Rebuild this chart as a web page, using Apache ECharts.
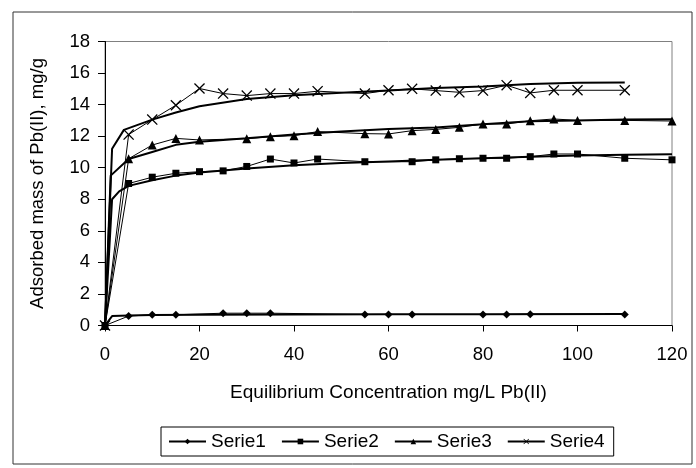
<!DOCTYPE html>
<html>
<head>
<meta charset="utf-8">
<script src="https://cdn.jsdelivr.net/npm/echarts@6/dist/echarts.min.js"></script>
<style>
html,body{margin:0;padding:0;background:#fff;}
#chart{width:696px;height:468px;}
</style>
</head>
<body>
<div id="chart"></div>
<script>
// ---- data ----
const serie1X = [0, 5, 10, 15, 25, 30, 35, 55, 60, 65, 80, 85, 90, 110];
const serie1Y = [0, 0.6, 0.68, 0.68, 0.78, 0.78, 0.78, 0.7, 0.7, 0.7, 0.7, 0.7, 0.72, 0.7];

const serie2X = [0, 5, 10, 15, 20, 25, 30, 35, 40, 45, 55, 65, 70, 75, 80, 85, 90, 95, 100, 110, 120];
const serie2Y = [0, 9.0, 9.4, 9.65, 9.75, 9.8, 10.08, 10.55, 10.3, 10.55, 10.38, 10.38, 10.5, 10.57, 10.6, 10.6, 10.7, 10.87, 10.87, 10.6, 10.5];

const serie3X = [0, 5, 10, 15, 20, 30, 35, 40, 45, 55, 60, 65, 70, 75, 80, 85, 90, 95, 100, 110, 120];
const serie3Y = [0, 10.57, 11.44, 11.86, 11.76, 11.84, 11.97, 12.03, 12.29, 12.16, 12.14, 12.35, 12.43, 12.56, 12.77, 12.77, 12.98, 13.09, 13.0, 13.0, 12.96];

const serie4X = [0, 5, 10, 15, 20, 25, 30, 35, 40, 45, 55, 60, 65, 70, 75, 80, 85, 90, 95, 100, 110];
const serie4Y = [0, 12.1, 13.05, 13.96, 15.02, 14.7, 14.57, 14.7, 14.7, 14.85, 14.7, 14.91, 15.0, 14.89, 14.78, 14.89, 15.23, 14.74, 14.91, 14.91, 14.91];

// fitted curves
const fit1X = [0, 1.5, 5, 10, 20, 40, 60, 80, 110];
const fit1Y = [0, 0.6, 0.64, 0.66, 0.68, 0.7, 0.71, 0.72, 0.73];

const fit2X = [0, 1.5, 3, 5, 10, 15, 20, 30, 40, 50, 60, 70, 80, 90, 100, 110, 120];
const fit2Y = [0, 8.0, 8.5, 8.85, 9.2, 9.5, 9.7, 9.95, 10.15, 10.3, 10.4, 10.5, 10.6, 10.7, 10.78, 10.82, 10.85];

const fit3X = [0, 1.2, 5, 10, 15, 20, 30, 40, 50, 60, 70, 80, 90, 100, 110, 120];
const fit3Y = [0, 9.5, 10.55, 11.0, 11.45, 11.65, 11.87, 12.1, 12.3, 12.45, 12.55, 12.75, 12.95, 13.0, 13.05, 13.08];

const fit4X = [0, 1.5, 4, 10, 15, 20, 30, 40, 50, 60, 70, 80, 90, 100, 110];
const fit4Y = [0, 11.2, 12.4, 13.05, 13.5, 13.9, 14.35, 14.6, 14.75, 14.9, 15.05, 15.15, 15.3, 15.38, 15.4];

const seriesNames = ['Serie1', 'Serie2', 'Serie3', 'Serie4'];
const xTitle = 'Equilibrium Concentration mg/L Pb(II)';
const yTitle = 'Adsorbed mass of Pb(II), mg/g';

// ---- build ----
const pairs = (xs, ys) => xs.map((x, i) => [x, ys[i]]);
const FONT = '"Liberation Sans", Arial, sans-serif';
const crossPath = 'path://M0,1 L1,0 L6,5 L11,0 L12,1 L7,6 L12,11 L11,12 L6,7 L1,12 L0,11 L5,6 Z';

function dataSeries(name, xs, ys, symbol, size) {
  return {
    name: name, type: 'line', data: pairs(xs, ys),
    symbol: symbol, symbolSize: size, showSymbol: true,
    lineStyle: { color: '#000', width: 1 },
    itemStyle: { color: '#000', borderWidth: 0 },
    z: 3, silent: true
  };
}
function fitSeries(xs, ys) {
  return {
    name: 'fit', type: 'line', data: pairs(xs, ys),
    symbol: 'none', showSymbol: false,
    lineStyle: { color: '#000', width: 2 },
    z: 2, silent: true
  };
}

const chart = echarts.init(document.getElementById('chart'), null, { renderer: 'canvas' });
chart.setOption({
  animation: false,
  backgroundColor: '#fff',
  textStyle: { fontFamily: FONT },
  graphic: [{
    type: 'rect', left: 10.5, top: 9.5, shape: { width: 679, height: 452 },
    style: { fill: 'none', stroke: '#333', lineWidth: 1 }, z: -1, silent: true
  }],
  grid: {
    left: 105, right: 24, top: 41.5, bottom: 142.5,
    show: true, borderColor: '#808080', borderWidth: 1, backgroundColor: 'transparent'
  },
  legend: {
    data: seriesNames,
    left: 161, top: 427,
    orient: 'horizontal',
    itemWidth: 37, itemHeight: 7, itemGap: 15,
    padding: [5, 9, 5, 7],
    borderColor: '#000', borderWidth: 1,
    textStyle: { fontFamily: FONT, fontSize: 19, color: '#000' },
    selectedMode: false
  },
  xAxis: {
    type: 'value', min: 0, max: 120, interval: 20,
    name: xTitle, nameLocation: 'middle', nameGap: 58,
    nameTextStyle: { fontFamily: FONT, fontSize: 19, color: '#000' },
    axisLine: { show: true, onZero: false, lineStyle: { color: '#000', width: 1 } },
    axisTick: { show: true, inside: false, length: 6, lineStyle: { color: '#000' } },
    axisLabel: { fontFamily: FONT, fontSize: 18.5, color: '#000', margin: 19.5 },
    splitLine: { show: false }
  },
  yAxis: {
    type: 'value', min: 0, max: 18, interval: 2,
    name: yTitle, nameLocation: 'middle', nameGap: 58, nameRotate: 90,
    nameTextStyle: { fontFamily: FONT, fontSize: 18.5, color: '#000' },
    axisLine: { show: true, onZero: false, lineStyle: { color: '#000', width: 1 } },
    axisTick: { show: true, inside: false, length: 7, lineStyle: { color: '#000' } },
    axisLabel: { fontFamily: FONT, fontSize: 18.5, color: '#000', margin: 15 },
    splitLine: { show: false }
  },
  series: [
    fitSeries(fit1X, fit1Y),
    fitSeries(fit2X, fit2Y),
    fitSeries(fit3X, fit3Y),
    fitSeries(fit4X, fit4Y),
    dataSeries('Serie1', serie1X, serie1Y, 'diamond', 8),
    dataSeries('Serie2', serie2X, serie2Y, 'rect', 7),
    dataSeries('Serie3', serie3X, serie3Y, 'triangle', 9),
    dataSeries('Serie4', serie4X, serie4Y, crossPath, 11)
  ]
});
</script>
</body>
</html>
